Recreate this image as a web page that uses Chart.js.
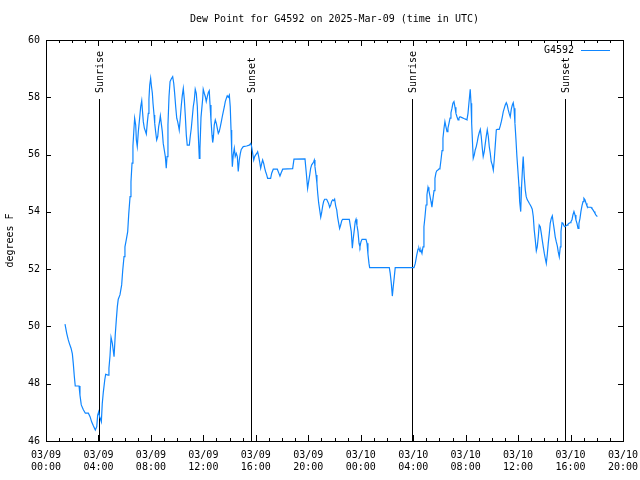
<!DOCTYPE html>
<html>
<head>
<meta charset="utf-8">
<script src="https://cdn.jsdelivr.net/npm/chart.js@4"></script>
<style>
  html, body { margin: 0; padding: 0; background: #fff; }
  #wrap { width: 640px; height: 480px; }
</style>
</head>
<body>
<div id="wrap"><canvas id="chartCanvas" width="640" height="480"></canvas></div>
<script>
// hours since 03/09 00:00 UTC
const times = [
  1.45, 1.58, 1.70, 1.78, 1.91, 2.01, 2.08, 2.16, 2.23, 2.52,
  2.59, 2.69, 2.84, 3.00, 3.23, 3.36, 3.48, 3.61, 3.76, 3.87,
  3.94, 4.02, 4.09, 4.22, 4.29, 4.37, 4.48, 4.55, 4.73, 4.80,
  4.88, 4.96, 5.06, 5.19, 5.28, 5.36, 5.44, 5.51, 5.64, 5.77,
  5.85, 5.95, 6.02, 6.12, 6.23, 6.31, 6.41, 6.48, 6.56, 6.63,
  6.71, 6.76, 6.84, 6.89, 6.96, 7.04, 7.14, 7.22, 7.30, 7.34,
  7.42, 7.50, 7.57, 7.65, 7.72, 7.80, 7.85, 7.91, 7.98, 8.03,
  8.11, 8.16, 8.24, 8.29, 8.36, 8.44, 8.52, 8.59, 8.67, 8.72,
  8.79, 8.87, 8.94, 9.02, 9.10, 9.17, 9.23, 9.30, 9.38, 9.46,
  9.55, 9.66, 9.74, 9.81, 9.89, 9.97, 10.04, 10.12, 10.16, 10.24,
  10.32, 10.39, 10.47, 10.55, 10.62, 10.70, 10.77, 10.93, 11.00, 11.08,
  11.16, 11.23, 11.31, 11.38, 11.46, 11.54, 11.61, 11.69, 11.74, 11.82,
  11.95, 11.99, 12.07, 12.15, 12.22, 12.30, 12.38, 12.45, 12.51, 12.58,
  12.66, 12.71, 12.76, 12.83, 12.91, 12.99, 13.06, 13.14, 13.21, 13.29,
  13.37, 13.44, 13.52, 13.60, 13.67, 13.75, 13.82, 13.90, 13.98, 14.05,
  14.11, 14.16, 14.21, 14.28, 14.36, 14.43, 14.51, 14.59, 14.66, 14.74,
  14.82, 14.89, 15.04, 15.30, 15.50, 15.61, 15.68, 15.76, 15.84, 15.91,
  15.99, 16.07, 16.14, 16.22, 16.29, 16.37, 16.45, 16.52, 16.60, 16.68,
  16.75, 16.83, 16.90, 17.13, 17.21, 17.33, 17.64, 17.74, 17.84, 17.92,
  18.05, 18.81, 18.91, 19.75, 19.85, 19.95, 20.03, 20.11, 20.18, 20.26,
  20.34, 20.41, 20.46, 20.51, 20.59, 20.66, 20.72, 20.79, 20.87, 20.95,
  21.02, 21.10, 21.17, 21.25, 21.40, 21.48, 21.56, 21.63, 21.71, 21.78,
  21.86, 21.94, 22.01, 22.09, 22.17, 22.24, 22.32, 22.39, 22.47, 22.55,
  22.62, 23.13, 23.20, 23.28, 23.36, 23.43, 23.51, 23.58, 23.64, 23.71,
  23.79, 23.87, 23.94, 24.02, 24.10, 24.40, 24.48, 24.55, 24.63, 24.68,
  26.18, 26.25, 26.33, 26.41, 26.48, 26.56, 26.63, 28.06, 28.16, 28.27,
  28.37, 28.44, 28.52, 28.59, 28.67, 28.75, 28.82, 28.90, 28.98, 29.05,
  29.13, 29.20, 29.28, 29.36, 29.43, 29.51, 29.59, 29.66, 29.74, 29.81,
  29.89, 29.97, 30.04, 30.12, 30.20, 30.27, 30.35, 30.42, 30.50, 30.58,
  30.65, 30.73, 30.81, 30.88, 30.96, 31.03, 31.11, 31.19, 31.26, 31.34,
  31.42, 31.49, 31.57, 31.72, 31.87, 32.03, 32.10, 32.18, 32.25, 32.31,
  32.35, 32.41, 32.46, 32.54, 32.58, 32.66, 32.73, 32.81, 32.89, 32.96,
  33.04, 33.12, 33.19, 33.27, 33.34, 33.42, 33.50, 33.57, 33.65, 33.73,
  33.80, 33.88, 33.95, 34.03, 34.11, 34.18, 34.26, 34.34, 34.41, 34.56,
  34.64, 34.72, 34.79, 34.87, 34.95, 35.02, 35.10, 35.17, 35.25, 35.33,
  35.40, 35.48, 35.56, 35.63, 35.69, 35.76, 35.84, 35.91, 35.99, 36.07,
  36.12, 36.20, 36.27, 36.35, 36.39, 36.47, 36.55, 36.62, 36.70, 36.78,
  36.85, 36.93, 37.00, 37.08, 37.16, 37.23, 37.31, 37.39, 37.46, 37.54,
  37.61, 37.69, 37.77, 37.84, 37.92, 38.00, 38.07, 38.15, 38.22, 38.30,
  38.38, 38.45, 38.53, 38.61, 38.68, 38.76, 38.83, 38.91, 38.99, 39.06,
  39.14, 39.22, 39.27, 39.35, 39.42, 39.50, 39.57, 39.65, 39.73, 39.80,
  39.88, 39.96, 40.03, 40.11, 40.18, 40.26, 40.34, 40.41, 40.49, 40.57,
  40.64, 40.72, 40.79, 40.87, 40.95, 41.02, 41.10, 41.18, 41.25, 41.33,
  41.56, 41.63, 41.71, 41.79, 41.86, 41.94, 42.04
];

// dew point, degrees F
const dewPoint = [
  50.08, 49.76, 49.53, 49.41, 49.24, 49.04, 48.71, 48.25, 47.92, 47.92,
  47.60, 47.26, 47.10, 46.97, 46.97, 46.85, 46.67, 46.53, 46.38, 46.50,
  46.90, 47.02, 46.85, 46.67, 47.30, 47.70, 48.13, 48.33, 48.30, 48.54,
  48.97, 49.62, 49.41, 48.94, 49.70, 50.22, 50.69, 50.95, 51.10, 51.45,
  51.95, 52.44, 52.78, 53.02, 53.31, 53.93, 54.53, 55.05, 55.70, 56.30,
  56.92, 57.27, 57.03, 56.51, 56.28, 56.80, 57.27, 57.67, 57.88, 57.62,
  57.15, 56.92, 56.83, 56.72, 57.09, 57.44, 57.93, 58.43, 58.66, 58.43,
  58.14, 57.79, 57.38, 57.09, 56.80, 56.51, 56.63, 56.97, 57.18, 57.35,
  57.09, 56.80, 56.39, 56.16, 55.93, 55.52, 55.93, 57.03, 58.02, 58.55,
  58.64, 58.72, 58.49, 58.14, 57.67, 57.27, 57.15, 56.97, 56.86, 57.27,
  57.73, 58.05, 58.31, 57.91, 57.38, 56.68, 56.33, 56.33, 56.63, 56.92,
  57.32, 57.67, 57.91, 58.28, 58.14, 57.67, 56.74, 55.87, 56.20, 57.30,
  57.96, 58.28, 58.14, 58.02, 57.85, 58.02, 58.17, 58.23, 57.73, 57.21,
  56.68, 56.42, 56.57, 57.03, 57.21, 57.09, 56.92, 56.74, 56.80, 56.97,
  57.15, 57.32, 57.50, 57.67, 57.85, 57.96, 58.05, 58.00, 58.08, 57.67,
  56.86, 56.16, 55.58, 55.99, 56.22, 55.93, 56.04, 55.93, 55.41, 55.81,
  56.04, 56.18, 56.28, 56.30, 56.33, 56.39, 56.28, 56.04, 55.81, 55.93,
  55.99, 56.04, 56.10, 55.93, 55.75, 55.52, 55.69, 55.81, 55.69, 55.52,
  55.40, 55.29, 55.17, 55.17, 55.35, 55.49, 55.49, 55.37, 55.25, 55.35,
  55.49, 55.51, 55.84, 55.85, 55.35, 54.82, 55.06, 55.29, 55.52, 55.64,
  55.69, 55.75, 55.81, 55.58, 55.29, 55.00, 54.65, 54.32, 54.07, 53.81,
  53.97, 54.21, 54.36, 54.44, 54.44, 54.36, 54.28, 54.16, 54.24, 54.36,
  54.42, 54.39, 54.44, 54.21, 54.07, 53.81, 53.60, 53.42, 53.54, 53.69,
  53.74, 53.74, 53.54, 53.31, 52.73, 53.07, 53.37, 53.66, 53.74, 53.54,
  53.31, 52.90, 52.78, 52.96, 53.04, 53.04, 52.90, 52.53, 52.20, 52.05,
  52.05, 51.85, 51.51, 51.06, 51.39, 51.73, 52.05, 52.05, 52.20, 52.49,
  52.70, 52.73, 52.61, 52.67, 52.55, 52.78, 53.48, 53.83, 54.24, 54.59,
  54.86, 54.74, 54.55, 54.36, 54.16, 54.47, 54.74, 55.17, 55.37, 55.44,
  55.46, 55.50, 55.52, 55.81, 56.14, 56.57, 56.92, 57.15, 56.97, 56.80,
  56.92, 57.09, 57.27, 57.46, 57.62, 57.79, 57.85, 57.65, 57.44, 57.32,
  57.21, 57.27, 57.32, 57.29, 57.26, 57.23, 57.21, 57.44, 57.79, 58.08,
  58.28, 57.79, 57.09, 56.25, 55.87, 55.99, 56.16, 56.28, 56.45, 56.63,
  56.77, 56.88, 56.63, 56.22, 55.93, 56.10, 56.39, 56.63, 56.86, 56.63,
  56.28, 56.04, 55.75, 55.64, 55.46, 55.81, 56.33, 56.86, 56.88, 56.88,
  57.00, 57.15, 57.30, 57.50, 57.62, 57.73, 57.81, 57.73, 57.56, 57.42,
  57.32, 57.58, 57.73, 57.81, 57.62, 57.09, 56.51, 55.93, 55.41, 54.88,
  54.36, 54.01, 54.94, 55.64, 55.93, 55.23, 54.76, 54.53, 54.42, 54.36,
  54.30, 54.24, 54.18, 54.09, 53.83, 53.37, 53.02, 52.64, 52.78, 53.13,
  53.54, 53.48, 53.25, 53.02, 52.78, 52.55, 52.38, 52.20, 52.49, 52.90,
  53.25, 53.60, 53.77, 53.86, 53.62, 53.37, 53.13, 52.96, 52.81, 52.61,
  52.43, 52.78, 53.31, 53.62, 53.60, 53.51, 53.48, 53.51, 53.54, 53.57,
  53.60, 53.62, 53.66, 53.72, 53.89, 54.01, 53.89, 53.72, 53.60, 53.42,
  53.60, 53.77, 54.01, 54.21, 54.36, 54.47, 54.42, 54.30, 54.21, 54.16,
  54.16, 54.12, 54.07, 54.01, 53.95, 53.89, 53.83
];

const dayLabels = ['03/09', '03/10'];
const sunTimes = [4.04, 15.66, 27.94, 39.61];
const sunLabels = ['Sunrise', 'Sunset', 'Sunrise', 'Sunset'];
const seriesName = 'G4592';
const titleText = 'Dew Point for G4592 on 2025-Mar-09 (time in UTC)';
const yTitle = 'degrees F';

const FONT = '10px "DejaVu Sans Mono"';
const LINE_COLOR = '#0f86ff';

Chart.defaults.font.family = '"DejaVu Sans Mono", monospace';
Chart.defaults.font.size = 10;
Chart.defaults.color = '#000';

function pad(n) { return (n < 10 ? '0' : '') + n; }

const overlay = {
  id: 'overlay',
  beforeDatasetsDraw(chart) {
    const { ctx, chartArea: a, scales: { x, y } } = chart;
    ctx.save();
    ctx.strokeStyle = '#000';
    ctx.fillStyle = '#000';
    ctx.lineWidth = 1;
    ctx.font = FONT;
    const top = Math.round(y.getPixelForValue(57.95));
    sunTimes.forEach((t, i) => {
      const px = Math.round(x.getPixelForValue(t)) + 0.5;
      ctx.beginPath();
      ctx.moveTo(px, top);
      ctx.lineTo(px, a.bottom);
      ctx.stroke();
      ctx.save();
      ctx.translate(px + 1, top - 6);
      ctx.rotate(-Math.PI / 2);
      ctx.textAlign = 'left';
      ctx.textBaseline = 'middle';
      ctx.fillText(sunLabels[i], 0, 0);
      ctx.restore();
    });
    ctx.restore();
  },
  afterDraw(chart) {
    const { ctx, chartArea: a, scales: { x, y } } = chart;
    ctx.save();
    ctx.strokeStyle = '#000';
    ctx.fillStyle = '#000';
    ctx.lineWidth = 1;
    ctx.font = FONT;

    // frame
    ctx.strokeRect(a.left + 0.5, a.top + 0.5, a.right - a.left, a.bottom - a.top);

    // x ticks, major every 4 h and minor every hour, inward on both sides
    ctx.beginPath();
    for (let h = x.min; h <= x.max; h++) {
      const px = Math.round(x.getPixelForValue(h)) + 0.5;
      const len = h % 4 === 0 ? 6 : 3;
      ctx.moveTo(px, a.bottom);
      ctx.lineTo(px, a.bottom - len);
      ctx.moveTo(px, a.top);
      ctx.lineTo(px, a.top + len);
    }
    y.ticks.forEach(t => {
      const py = Math.round(y.getPixelForValue(t.value)) + 0.5;
      ctx.moveTo(a.left, py);
      ctx.lineTo(a.left + 5, py);
      ctx.moveTo(a.right, py);
      ctx.lineTo(a.right - 5, py);
    });
    ctx.stroke();

    // title
    ctx.textAlign = 'center';
    ctx.textBaseline = 'middle';
    ctx.fillText(titleText, (a.left + a.right) / 2, 19);

    // y axis title
    ctx.save();
    ctx.translate(10, (a.top + a.bottom) / 2);
    ctx.rotate(-Math.PI / 2);
    ctx.fillText(yTitle, 0, 0);
    ctx.restore();

    // key
    ctx.textAlign = 'right';
    ctx.fillText(chart.data.datasets[0].label, a.right - 49, a.top + 10);
    ctx.strokeStyle = LINE_COLOR;
    ctx.beginPath();
    ctx.moveTo(a.right - 42, a.top + 10.5);
    ctx.lineTo(a.right - 13, a.top + 10.5);
    ctx.stroke();
    ctx.restore();
  }
};

const ctx = document.getElementById('chartCanvas').getContext('2d');
const myChart = new Chart(ctx, {
  type: 'line',
  data: {
    datasets: [{
      label: seriesName,
      data: times.map((t, i) => ({ x: t, y: dewPoint[i] })),
      borderColor: LINE_COLOR,
      backgroundColor: LINE_COLOR,
      borderWidth: 1.2,
      pointRadius: 0,
      tension: 0,
      fill: false
    }]
  },
  options: {
    responsive: false,
    animation: false,
    events: [],
    layout: { padding: { top: 40, right: 17, left: 0, bottom: 0 } },
    plugins: {
      legend: { display: false },
      title: { display: false },
      tooltip: { enabled: false }
    },
    scales: {
      x: {
        type: 'linear',
        min: 0,
        max: 44,
        grid: { display: false, drawTicks: false },
        border: { display: false },
        ticks: {
          stepSize: 4,
          autoSkip: false,
          maxRotation: 0,
          padding: 8,
          callback: v => [dayLabels[Math.floor(v / 24)], pad(v % 24) + ':00']
        },
        afterFit: s => { s.height = 39; s.paddingLeft = 0; s.paddingRight = 0; }
      },
      y: {
        min: 46,
        max: 60,
        grid: { display: false, drawTicks: false },
        border: { display: false },
        ticks: { stepSize: 2, padding: 6 },
        afterFit: s => { s.width = 46; s.paddingTop = 0; s.paddingBottom = 0; }
      }
    }
  },
  plugins: [overlay]
});
</script>
</body>
</html>
